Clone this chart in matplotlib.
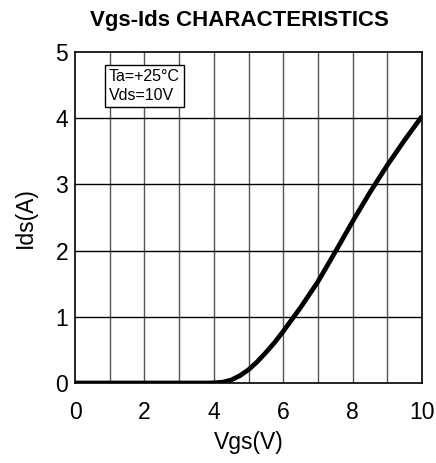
import numpy as np
import matplotlib.pyplot as plt

plt.rcParams['font.family'] = ['Liberation Sans', 'DejaVu Sans']

# Vgs-Ids curve
vgs = [0, 1, 2, 3, 3.8, 4.0, 4.25, 4.5, 4.75, 5.0, 5.25, 5.5, 5.75, 6.0, 6.5, 7.0,
       7.5, 8.0, 8.5, 9.0, 9.5, 10.0]
ids = [0, 0, 0, 0, 0, 0.003, 0.012, 0.045, 0.11, 0.2, 0.32, 0.46, 0.61, 0.78, 1.14, 1.53,
       1.98, 2.44, 2.88, 3.29, 3.67, 4.03]

xticks = [0, 2, 4, 6, 8, 10]
yticks = [0, 1, 2, 3, 4, 5]

fig = plt.figure(figsize=(4.36, 4.63), dpi=100)
ax = fig.add_axes([75 / 436, 80 / 463, 347 / 436, 331 / 463])

for v in range(1, 10):
    ax.axvline(v, color='#555555', lw=1.0, zorder=1)
for v in range(1, 5):
    ax.axhline(v, color='black', lw=1.0, zorder=1)

ax.plot(vgs, ids, color='black', lw=3.4, zorder=3, solid_capstyle='butt',
        solid_joinstyle='round')

ax.set_xlim(0, 10)
ax.set_ylim(0, 5)
ax.set_xticks(xticks)
ax.set_yticks(yticks)
ax.tick_params(axis='x', length=0, labelsize=16.5, pad=13)
ax.tick_params(axis='y', length=0, labelsize=16.5, pad=5)
for s in ax.spines.values():
    s.set_color('black')
    s.set_linewidth(1.2)

ax.set_xlabel('Vgs(V)', fontsize=16.5, labelpad=5)
ax.set_ylabel('Ids(A)', fontsize=16.5, labelpad=13)
ax.set_title('Vgs-Ids CHARACTERISTICS', fontsize=16, fontweight='bold', pad=19, x=0.475)

ax.text(0.97, 4.74, 'Ta=+25°C\nVds=10V', fontsize=11.5, va='top', ha='left', zorder=4,
        linespacing=1.3,
        bbox=dict(boxstyle='square,pad=0.25', fc='white', ec='black', lw=1.0))

plt.savefig('out.png', dpi=100)
